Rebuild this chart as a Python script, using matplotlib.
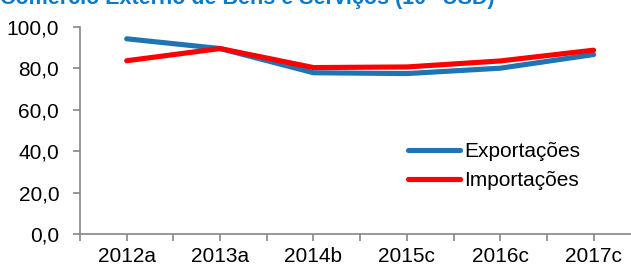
import numpy as np
import matplotlib.pyplot as plt

plt.rcParams['font.family'] = ['Liberation Sans', 'DejaVu Sans']

# Comércio externo de bens e serviços (10^9 USD)
anos = ["2012a", "2013a", "2014b", "2015c", "2016c", "2017c"]
exportacoes = [94.3, 89.6, 77.9, 77.5, 80.1, 86.7]
importacoes = [83.7, 89.6, 80.4, 80.7, 83.6, 88.8]

cinza = "#868686"

fig = plt.figure(figsize=(6.31, 2.69), dpi=100)
ax = fig.add_axes([80 / 631, 35 / 269, 1 - 80 / 631, 207 / 269])

x = np.arange(len(anos))
ax.plot(x, exportacoes, color="#1F74B4", lw=3.7, solid_capstyle="round",
        label="Exportações")
ax.plot(x, importacoes, color="#FF0000", lw=3.7, solid_capstyle="round",
        label="Importações")

ax.set_xlim(-0.5, 5.4)
ax.set_ylim(0, 100)
ax.set_yticks(np.arange(0, 101, 20))
ax.set_yticklabels([f"{v:.1f}".replace(".", ",") for v in range(0, 101, 20)])
ax.set_xticks(x)
ax.set_xticklabels(anos)
ax.set_xticks(np.arange(-0.5, 5.5, 1), minor=True)

for s in ["top", "right"]:
    ax.spines[s].set_visible(False)
for s in ["left", "bottom"]:
    ax.spines[s].set_color(cinza)
    ax.spines[s].set_linewidth(1.2)

ax.tick_params(axis="both", which="both", color=cinza, width=1.2, length=5,
               labelsize=15, labelcolor="black")
ax.tick_params(axis="y", pad=10)
ax.tick_params(axis="x", pad=4)

fig.legend(loc="center left", bbox_to_anchor=(408 / 631, 1 - 166 / 269),
           frameon=False, fontsize=15, handlelength=2.5, handletextpad=0.2,
           borderpad=0, borderaxespad=0, labelspacing=0.5)

fig.text(0.0, 1 - 4 / 269, "Comércio Externo de Bens e Serviços (10⁹ USD)",
         color="#0A7ACC", fontsize=15.5, fontweight="bold", ha="left",
         va="baseline")

fig.savefig("out.png", dpi=100)
